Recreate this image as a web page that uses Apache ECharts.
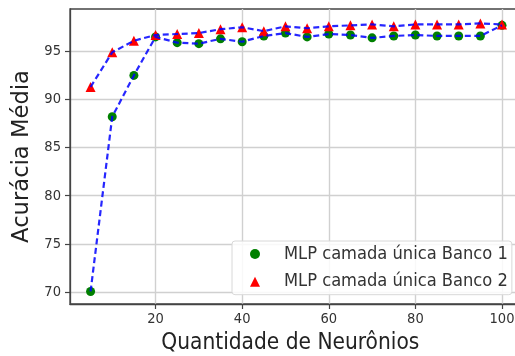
<!DOCTYPE html>
<html><head><meta charset="utf-8">
<script src="https://cdn.jsdelivr.net/npm/echarts@6/dist/echarts.min.js"></script>
<style>html,body{margin:0;padding:0;background:#fff}#c{width:515px;height:356px}</style>
</head><body><div id="c"></div>
<script>
const neurons = [5,10,15,20,25,30,35,40,45,50,55,60,65,70,75,80,85,90,95,100];
const banco1 = [70.05,88.2,92.5,96.5,95.9,95.8,96.3,96.0,96.6,96.9,96.5,96.8,96.7,96.4,96.6,96.7,96.6,96.6,96.6,97.7];
const banco2 = [91.3,94.9,96.1,96.7,96.8,96.9,97.3,97.5,97.1,97.6,97.4,97.6,97.7,97.8,97.6,97.8,97.8,97.8,97.9,97.8];
const seriesNames = ['MLP camada única Banco 1','MLP camada única Banco 2'];
const xTicks = [20,40,60,80,100];
const yTicks = [70,75,80,85,90,95];
const xTitle = 'Quantidade de Neurônios';
const yTitle = 'Acurácia Média';

const COND = '"DejaVu Sans Condensed", "DejaVu Sans", sans-serif';
const REG = '"DejaVu Sans", sans-serif';
const mctx = document.createElement('canvas').getContext('2d');
function em(text, fam){ mctx.font = '100px ' + fam; return mctx.measureText(text).width / 100; }
const condOK = em('Quantidade', COND) < 0.95 * em('Quantidade', REG);
const HF = condOK ? COND : REG;
const xNameSize = 258 / em(xTitle, HF);
const legSize = 224 / em(seriesNames[0], HF);
const tickSize = 25 / em('100', HF);
const yNameSize = 173 / em(yTitle, REG);

const pairs = ys => neurons.map((x,i)=>[x, ys[i]]);
const spine = '#444';
const lineSeries = ys => ({
  type:'line', data:pairs(ys), symbol:'none', silent:true, z:5,
  lineStyle:{color:'#0000ff', width:2.2, type:[6,3.5], opacity:0.85}
});
const chart = echarts.init(document.getElementById('c'), null, {renderer:'canvas'});
chart.setOption({
  animation:false,
  grid:{left:70, top:9, width:452.6, height:295, show:true, borderColor:spine, borderWidth:1.3,
        containLabel:false, outerBoundsMode:'none'},
  xAxis:{
    type:'value', min:0.25, max:104.75,
    name:xTitle, nameLocation:'middle', nameGap:27,
    nameTextStyle:{fontFamily:HF, fontSize:xNameSize, color:'#222', padding:[0,12,0,0]},
    axisLine:{show:true, lineStyle:{color:spine, width:1.3}},
    axisTick:{show:true, customValues:xTicks, length:5, lineStyle:{color:spine, width:1.2}},
    axisLabel:{customValues:xTicks, color:'#333', fontFamily:HF, fontSize:tickSize, margin:8},
    splitLine:{show:true, lineStyle:{color:'#d0d0d0', width:1.4}}
  },
  yAxis:{
    type:'value', min:68.75, max:99.4,
    name:yTitle, nameLocation:'middle', nameGap:30, nameRotate:90,
    nameTextStyle:{fontFamily:REG, fontSize:yNameSize, color:'#222'},
    axisLine:{show:true, lineStyle:{color:spine, width:1.3}},
    axisTick:{show:true, customValues:yTicks, length:5, lineStyle:{color:spine, width:1.2}},
    axisLabel:{customValues:yTicks, color:'#333', fontFamily:HF, fontSize:tickSize, margin:9},
    splitLine:{show:true, lineStyle:{color:'#d0d0d0', width:1.4}}
  },
  legend:{
    orient:'vertical', left:232, top:241,
    data:[{name:seriesNames[0], icon:'circle'},{name:seriesNames[1], icon:'triangle'}],
    itemWidth:10, itemHeight:10, itemGap:7.7,
    padding:[3,4,3,18],
    backgroundColor:'rgba(255,255,255,0.85)', borderColor:'#d8d8d8', borderWidth:1, borderRadius:3,
    textStyle:{fontFamily:HF, fontSize:legSize, color:'#333', padding:[0,0,0,19], lineHeight:20}
  },
  series:[
    {name:seriesNames[0], type:'scatter', data:pairs(banco1), symbol:'circle', symbolSize:9, z:2,
     itemStyle:{color:'#008000', opacity:1}},
    {name:seriesNames[1], type:'scatter', data:pairs(banco2), symbol:'triangle', symbolSize:10, z:3,
     itemStyle:{color:'#ff0000', opacity:1}},
    lineSeries(banco1),
    lineSeries(banco2)
  ]
});
</script></body></html>
